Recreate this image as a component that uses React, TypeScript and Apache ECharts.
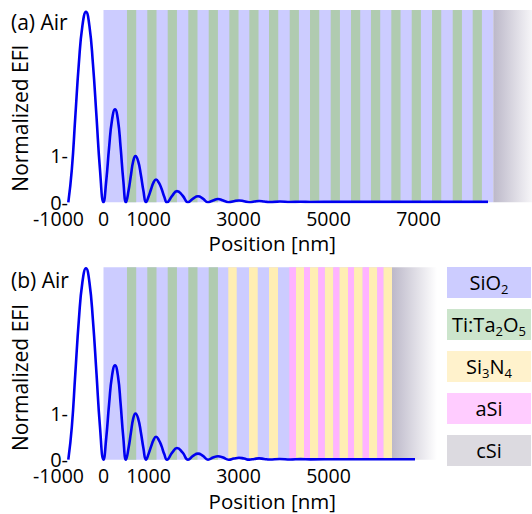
import React, { useEffect, useRef } from "react";
import * as echarts from "echarts";

// ---------- data (nm, normalized EFI) ----------
const topPos = [
  -782, -704, -626, -548, -469, -389, -313, -235, -156, -78, 0,
  62, 125, 190, 256, 320, 380, 440, 500,
  555, 611, 660, 711, 770, 830, 888, 944,
  1000, 1060, 1110, 1167, 1230, 1290, 1350, 1411,
  1525, 1633, 1760, 1878,
  1990, 2100, 2210, 2322,
  2433, 2544, 2660, 2780,
  2895, 3011, 3125, 3240,
  3350, 3456, 3570, 3690,
  3920, 4150, 4380, 4600, 5200, 6000, 7000, 8000, 8544,
];
const topEFI = [
  0, 0.7, 1.84, 2.97, 3.78, 4.08, 3.78, 2.97, 1.84, 0.7, 0,
  0.47, 1.18, 1.77, 1.99, 1.77, 1.18, 0.47, 0,
  0.24, 0.59, 0.88, 0.99, 0.88, 0.59, 0.24, 0,
  0.12, 0.29, 0.42, 0.49, 0.42, 0.29, 0.12, 0,
  0.14, 0.24, 0.14, 0,
  0.08, 0.13, 0.08, 0,
  0.04, 0.07, 0.04, 0,
  0.022, 0.04, 0.022, 0.002,
  0.016, 0.028, 0.016, 0.003,
  0.016, 0.005, 0.012, 0.008, 0.009, 0.009, 0.009, 0.009, 0.009,
];
const bottomPos = [
  -782, -704, -626, -548, -469, -389, -313, -235, -156, -78, 0,
  62, 125, 190, 256, 320, 380, 440, 500,
  555, 611, 660, 711, 770, 830, 888, 944,
  1000, 1060, 1110, 1167, 1230, 1290, 1350, 1411,
  1525, 1633, 1760, 1878,
  1990, 2100, 2210, 2322,
  2433, 2544, 2660, 2780,
  2895, 3011, 3125, 3240,
  3350, 3456, 3570, 3690,
  3920, 4150, 4380, 4600, 5200, 6000, 6922,
];
const bottomEFI = [
  0, 0.7, 1.85, 2.99, 3.8, 4.1, 3.8, 2.99, 1.85, 0.7, 0,
  0.48, 1.2, 1.8, 2.02, 1.8, 1.2, 0.48, 0,
  0.24, 0.59, 0.88, 0.99, 0.88, 0.59, 0.24, 0,
  0.12, 0.29, 0.42, 0.49, 0.42, 0.29, 0.12, 0,
  0.15, 0.25, 0.15, 0,
  0.08, 0.13, 0.08, 0,
  0.045, 0.074, 0.045, 0,
  0.024, 0.042, 0.024, 0.002,
  0.016, 0.028, 0.016, 0.003,
  0.016, 0.005, 0.012, 0.008, 0.009, 0.009, 0.009,
];

const topXTickLabels = [-1000, 0, 1000, 3000, 5000, 7000];
const bottomXTickLabels = [-1000, 0, 1000, 3000, 5000];
const yTickLabels = [0, 1];

// layer stacks [start, end] in nm
const topSiO2 = [[0, 8662]];
const topTiTa2O5 = [
  [522, 727], [973, 1178], [1427, 1632], [1884, 2089], [2338, 2543], [2796, 3001],
  [3240, 3445], [3678, 3883], [4138, 4343], [4589, 4794], [5049, 5254], [5500, 5705],
  [5944, 6149], [6396, 6601], [6849, 7054], [7300, 7505], [7760, 7965], [8204, 8409],
];
const topCSi = [[8662, 9522]];

const bottomSiO2 = [[0, 6411]];
const bottomTiTa2O5 = [[522, 727], [973, 1178], [1427, 1632], [1884, 2089], [2338, 2543]];
const bottomSi3N4 = [
  [2773, 2960], [3233, 3427], [3678, 3878],
  [4278, 4456], [4589, 4773], [4916, 5107], [5240, 5433], [5567, 5760], [5900, 6084], [6218, 6411],
];
const bottomASi = [
  [4129, 4278], [4456, 4589], [4773, 4916], [5107, 5240], [5433, 5567], [5760, 5900], [6084, 6218],
];
const bottomCSi = [[6411, 7411]];

const legendMaterials = ["SiO2", "Ti:Ta2O5", "Si3N4", "aSi", "cSi"];

// ---------- styles ----------
const FONT = '"Open Sans", "Liberation Sans", sans-serif';
const C_SIO2 = "#ccccff";
const C_TITA = "#b0cbb0";
const C_SIN = "#ffeeb3";
const C_ASI = "#ffb3ff";
const legendColors = ["#ccccff", "#cce5cc", "#fff2cc", "#ffccff", "#dcdae0"];
const LINE = "#0000f0";

const X_MIN = -1000;
const X_MAX = 9522;

function areas(intervals: number[][], color: any) {
  return intervals.map(([s, e]) => [
    { xAxis: s, itemStyle: { color, borderWidth: 0 } },
    { xAxis: e },
  ]);
}

function gradient(endColor: string) {
  return new echarts.graphic.LinearGradient(0, 0, 1, 0, [
    { offset: 0, color: "#bcb8c9" },
    { offset: 1, color: endColor },
  ]);
}

function richName(name: string) {
  return name.replace(/([^0-9]+)|([0-9]+)/g, (_m, a, b) => (a ? `{n|${a}}` : `{s|${b}}`));
}

function xAxisCfg(gridIndex: number, labels: number[], gap: number) {
  return {
    type: "value",
    gridIndex,
    min: X_MIN,
    max: X_MAX,
    interval: 1000,
    axisLine: { show: false },
    axisTick: { show: false },
    splitLine: { show: false },
    axisLabel: {
      color: "#000",
      fontSize: 19.5,
      fontFamily: FONT,
      lineHeight: 14,
      margin: 9,
      formatter: (v: number) => (labels.indexOf(v) >= 0 ? String(v) : ""),
    },
    name: "Position [nm]",
    nameLocation: "middle",
    nameGap: gap,
    nameTextStyle: { color: "#000", fontSize: 20.5, fontFamily: FONT, lineHeight: 16, padding: [0, 46, 0, 0] },
  };
}

function yAxisCfg(gridIndex: number, shift: number) {
  return {
    type: "value",
    gridIndex,
    min: 0,
    max: 4.12,
    interval: 1,
    axisLine: { show: false },
    axisTick: { show: false },
    splitLine: { show: false },
    axisLabel: {
      color: "#000",
      fontSize: 20,
      fontFamily: FONT,
      lineHeight: 12,
      margin: -9.5,
      formatter: (v: number) => (yTickLabels.indexOf(v) >= 0 ? `${v}-` : ""),
    },
    name: "Normalized EFI",
    nameLocation: "middle",
    nameGap: 28,
    nameTextStyle: { color: "#000", fontSize: 21, fontFamily: FONT, padding: [0, shift, 0, 0] },
  };
}

function lineSeries(idx: number, xs: number[], ys: number[], marks: any[]) {
  return {
    type: "line",
    xAxisIndex: idx,
    yAxisIndex: idx,
    data: xs.map((x, i) => [x, ys[i]]),
    smooth: true,
    symbol: "none",
    lineStyle: { color: LINE, width: 2.6 },
    itemStyle: { color: LINE },
    markArea: {
      silent: true,
      label: { show: false },
      emphasis: { disabled: true },
      data: marks,
    },
  };
}

export default function App() {
  const ref = useRef<HTMLDivElement>(null);
  useEffect(() => {
    if (!ref.current) return;
    const chart = echarts.init(ref.current, null, { renderer: "svg" });

    const topMarks = [
      ...areas(topSiO2, C_SIO2),
      ...areas(topTiTa2O5, C_TITA),
      ...areas(topCSi, gradient("#f6f5f8")),
    ];
    const bottomMarks = [
      ...areas(bottomSiO2, C_SIO2),
      ...areas(bottomTiTa2O5, C_TITA),
      ...areas(bottomSi3N4, C_SIN),
      ...areas(bottomASi, C_ASI),
      ...areas(bottomCSi, gradient("#ffffff")),
    ];

    const legendEls: any[] = [];
    legendMaterials.forEach((m, i) => {
      const y = 267 + 42 * i;
      legendEls.push({
        type: "rect",
        shape: { x: 447, y, width: 84, height: 31 },
        style: { fill: legendColors[i] },
      });
      legendEls.push({
        type: "text",
        style: {
          text: richName(m),
          x: 489,
          y: y + 15.5,
          align: "center",
          verticalAlign: "middle",
          textAlign: "center",
          textVerticalAlign: "middle",
          rich: {
            n: { fontSize: 20, fontFamily: FONT, fill: "#000", color: "#000", lineHeight: 26 },
            s: { fontSize: 13, fontFamily: FONT, fill: "#000", color: "#000", lineHeight: 14, verticalAlign: "bottom" },
          },
        },
      });
    });

    chart.setOption({
      animation: false,
      backgroundColor: "#ffffff",
      textStyle: { fontFamily: FONT },
      grid: [
        { left: 58.5, right: 0, top: 10, height: 192.3, outerBoundsMode: "none", containLabel: false },
        { left: 58.5, right: 0, top: 267.3, height: 192.4, outerBoundsMode: "none", containLabel: false },
      ],
      xAxis: [xAxisCfg(0, topXTickLabels, 33), xAxisCfg(1, bottomXTickLabels, 33)],
      yAxis: [yAxisCfg(0, 24), yAxisCfg(1, 28)],
      series: [
        lineSeries(0, topPos, topEFI, topMarks),
        lineSeries(1, bottomPos, bottomEFI, bottomMarks),
      ],
      graphic: [
        {
          type: "text",
          style: { text: "(a) Air", x: 11, y: 11, fontSize: 21, fontFamily: FONT, fill: "#000", align: "left", verticalAlign: "top" },
        },
        {
          type: "text",
          style: { text: "(b) Air", x: 11, y: 269, fontSize: 21, fontFamily: FONT, fill: "#000", align: "left", verticalAlign: "top" },
        },
        ...legendEls,
      ],
    });
    return () => chart.dispose();
  }, []);
  return <div ref={ref} style={{ position: "fixed", left: 0, top: 0, width: 532, height: 514 }} />;
}
